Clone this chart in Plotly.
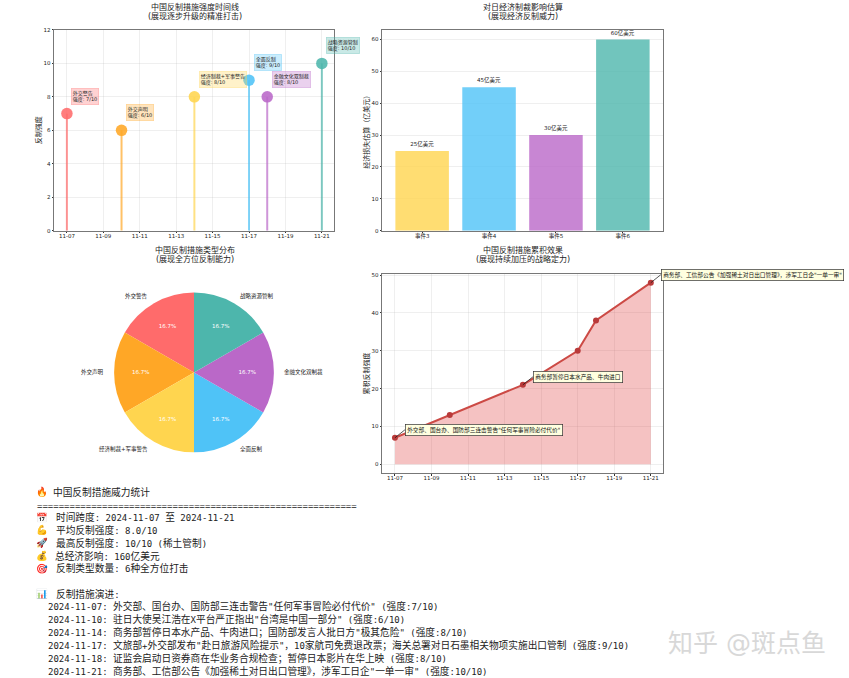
import math
import re
import plotly.graph_objects as go

# ---------- data ----------
dates = ["2024-11-07", "2024-11-10", "2024-11-14", "2024-11-17", "2024-11-18", "2024-11-21"]
intensity = [7, 6, 8, 9, 8, 10]
types = ["外交警告", "外交声明", "经济制裁+军事警告", "全面反制", "金融文化双制裁", "战略资源管制"]
colors = ["#FF6B6B", "#FFA726", "#FFD54F", "#4FC3F7", "#BA68C8", "#4DB6AC"]
bar_events = ["事件3", "事件4", "事件5", "事件6"]
bar_values = [25, 45, 30, 60]
bar_colors = ["#FFD54F", "#4FC3F7", "#BA68C8", "#4DB6AC"]
pie_values = [1, 1, 1, 1, 1, 1]
cumulative = [7, 13, 21, 30, 38, 48]
callouts = {
    0: '外交部、国台办、国防部三连击警告"任何军事冒险必付代价"',
    2: "商务部暂停日本水产品、牛肉进口",
    5: '商务部、工信部公告《加强稀土对日出口管理》，涉军工日企"一单一审"',
}
stat_rows = [
    ("🔥", "中国反制措施威力统计", 53, 491.5),
    ("📅", "时间跨度: 2024-11-07 至 2024-11-21", 56, 517),
    ("💪", "平均反制强度: 8.0/10", 56, 530),
    ("🚀", "最高反制强度: 10/10 (稀土管制)", 56, 543),
    ("💰", "总经济影响: 160亿美元", 55, 556),
    ("🎯", "反制类型数量: 6种全方位打击", 56, 568),
    ("📊", "反制措施演进:", 56, 594),
]
timeline = [
    '外交部、国台办、国防部三连击警告"任何军事冒险必付代价" (强度:7/10)',
    '驻日大使吴江浩在X平台严正指出"台湾是中国一部分" (强度:6/10)',
    '商务部暂停日本水产品、牛肉进口；国防部发言人批日方"极其危险" (强度:8/10)',
    '文旅部+外交部发布"赴日旅游风险提示"，10家航司免费退改票；海关总署对日石墨相关物项实施出口管制 (强度:9/10)',
    "证监会启动日资券商在华业务合规检查；暂停日本影片在华上映 (强度:8/10)",
    '商务部、工信部公告《加强稀土对日出口管理》，涉军工日企"一单一审" (强度:10/10)',
]
titles = [
    (194.5, 6, "中国反制措施强度时间线", "(展现逐步升级的精准打击)"),
    (522.5, 6, "对日经济制裁影响估算", "(展现经济反制威力)"),
    (194.5, 249, "中国反制措施类型分布", "(展现全方位反制能力)"),
    (522.5, 249, "中国反制措施累积效果", "(展现持续加压的战略定力)"),
]

# ---------- layout helpers ----------
W, H = 849, 678
CJK = "Noto Sans CJK SC"
SANS = f"DejaVu Sans, {CJK}"
MONO = f"DejaVu Sans Mono, {CJK}"
SPINE = "#777777"
GRID = "rgba(176,176,176,0.2)"


def px(x):
    return x / W


def py(y):
    # small vertical calibration measured against the rendered picture
    return 1 - (y - 2) * 1.0075 / H


def put(x, y, text, size, anchor="center", family=SANS, color="#222222"):
    fig.add_annotation(
        x=px(x - 2 if anchor == "left" else x), y=py(y), xref="paper", yref="paper",
        text=text, showarrow=False, xanchor=anchor, yanchor="middle", align="center",
        font=dict(size=size, family=family, color=color),
    )


def rgba(hex_color, a):
    return f"rgba({int(hex_color[1:3], 16)},{int(hex_color[3:5], 16)},{int(hex_color[5:7], 16)},{a})"


def axis_style(**kw):
    base = dict(
        showline=True, linecolor=SPINE, linewidth=1, mirror=True,
        showgrid=True, gridcolor=GRID, gridwidth=1, zeroline=False,
        ticks="outside", ticklen=1.5, tickwidth=0.6, tickcolor="#333333",
        tickfont=dict(size=5.5, family=SANS, color="#222222"),
    )
    base.update(kw)
    return base


def title_font(size=7):
    return dict(size=size, family=SANS, color="#222222")


fig = go.Figure()
date_axis = dict(type="date", tickformat="%m-%d", dtick=2 * 86400000, tick0=dates[0],
                 range=["2024-11-06 07:00", "2024-11-21 16:00"], ticklabelstandoff=-2)

# ---------- panel 1: lollipop ----------
for d, v, c in zip(dates, intensity, colors):
    fig.add_trace(go.Scatter(
        x=[d, d], y=[0, v], mode="lines", line=dict(color=c, width=2), opacity=0.7,
        xaxis="x", yaxis="y", showlegend=False, hoverinfo="skip",
    ))
fig.add_trace(go.Scatter(
    x=dates, y=intensity, mode="markers",
    marker=dict(color=colors, size=11.5, opacity=0.88, line=dict(width=0)),
    xaxis="x", yaxis="y", showlegend=False,
))
for d, v, c, t in zip(dates, intensity, colors, types):
    fig.add_annotation(
        x=d, y=v, xref="x", yref="y", text=f"{t}<br>强度: {v}/10", showarrow=False,
        xanchor="left", yanchor="bottom", align="left", xshift=4.5, yshift=9,
        font=dict(size=5, family=SANS, color="#222222"),
        bgcolor=rgba(c, 0.3), bordercolor=rgba(c, 0.45), borderwidth=0.6, borderpad=1.2,
    )

# ---------- panel 2: bars ----------
fig.add_trace(go.Bar(
    x=bar_events, y=bar_values, marker=dict(color=bar_colors, opacity=0.8, line=dict(width=0)),
    width=0.8, text=[f"{v}亿美元" for v in bar_values], textposition="outside", cliponaxis=False,
    textfont=dict(size=5.5, family=SANS, color="#222222"),
    xaxis="x2", yaxis="y2", showlegend=False,
))

# ---------- panel 3: pie ----------
fig.add_trace(go.Pie(
    labels=types, values=pie_values, sort=False, direction="counterclockwise", rotation=-60,
    marker=dict(colors=colors, line=dict(width=0)), textinfo="percent",
    texttemplate="%{percent:.1%}", textposition="inside", insidetextorientation="horizontal",
    textfont=dict(size=5.5, family=SANS, color="white"),
    domain=dict(x=[px(114), px(274)], y=[py(452), py(292)]), showlegend=False,
))

# ---------- panel 4: cumulative ----------
fig.add_trace(go.Scatter(
    x=dates, y=cumulative, mode="lines+markers", fill="tozeroy",
    fillcolor="rgba(224,70,70,0.33)",
    line=dict(color="#CC4A45", width=2),
    marker=dict(color="#B93A3A", size=6),
    xaxis="x3", yaxis="y3", showlegend=False,
))
for i, text in callouts.items():
    fig.add_annotation(
        x=dates[i], y=cumulative[i], xref="x3", yref="y3", text=text,
        showarrow=True, axref="pixel", ayref="pixel", ax=10, ay=-8,
        xanchor="left", yanchor="middle", arrowhead=0, arrowwidth=0.7, arrowcolor="#111111",
        font=dict(size=5.7, family=SANS, color="#111111"),
        bgcolor="#FFFFE0", bordercolor="#333333", borderwidth=0.7, borderpad=1.5,
    )

# ---------- figure layout ----------
fig.update_layout(
    width=W, height=H, autosize=False, margin=dict(l=0, r=0, t=0, b=0, pad=0),
    paper_bgcolor="white", plot_bgcolor="white", bargap=0.2,
    xaxis=axis_style(domain=[px(54), px(334)], anchor="y", **date_axis),
    yaxis=axis_style(domain=[py(230), py(29)], anchor="x", range=[0, 12], dtick=2,
                     title=dict(text="反制强度", font=title_font(), standoff=0)),
    xaxis2=axis_style(domain=[px(382), px(663)], anchor="y2", range=[-0.6, 3.6], type="category",
                      showgrid=False, ticklabelstandoff=-2),
    yaxis2=axis_style(domain=[py(230), py(29)], anchor="x2", range=[0, 63], dtick=10,
                      title=dict(text="经济损失估算（亿美元）", font=title_font(), standoff=0)),
    xaxis3=axis_style(domain=[px(382), px(663)], anchor="y3", **date_axis),
    yaxis3=axis_style(domain=[py(473), py(273)], anchor="x3", range=[-2.4, 50.4], dtick=10,
                      title=dict(text="累积反制强度", font=title_font(), standoff=0)),
)

# ---------- titles ----------
for x, y, line1, line2 in titles:
    put(x, y, line1, 8)
    put(x, y + 9, line2, 8)

# ---------- pie outer labels ----------
PIE_CX, PIE_CY, PIE_R = 194, 372, 80
step = 360 / len(types)
for i, t in enumerate(types):
    ang = math.radians(90 + step * (i + 0.5))
    lx = PIE_CX + 1.1 * PIE_R * math.cos(ang)
    ly = PIE_CY - 1.1 * PIE_R * math.sin(ang)
    put(lx + (2 if math.cos(ang) > 0 else 0), ly, t, 5.5, anchor="left" if math.cos(ang) > 0 else "right")


# ---------- statistics text ----------
def mono(text):
    return re.sub(r"([^\x00-\x7f]+)", r'<span style="font-size:9.7px">\1</span>', text)


for icon, text, x, y in stat_rows:
    put(42, y, icon, 9.5)
    put(x, y, mono(text), 9, anchor="left", family=MONO)
put(37, 505.5, "=" * 59, 9, anchor="left", family=MONO)
for i, (d, text) in enumerate(zip(dates, timeline)):
    put(48, 606 + i * 13, mono(f"{d}: {text}"), 9, anchor="left", family=MONO)

# ---------- watermark ----------
put(668, 643, "知乎 @斑点鱼", 25, anchor="left", color="#D8D8D8")

fig.write_html(
    "out.html", config={"displayModeBar": False},
    post_script=(
        "document.documentElement.style.overflow='hidden';"
        "document.body.style.margin='0';document.body.style.overflow='hidden';"
        "document.body.style.height='678px';"
    ),
)
